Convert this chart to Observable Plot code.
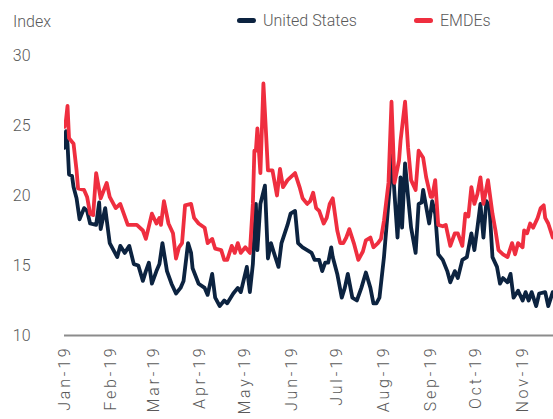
<!DOCTYPE html>
<html>
<head>
<meta charset="utf-8">
<script src="https://cdn.jsdelivr.net/npm/d3@7"></script>
<script src="https://cdn.jsdelivr.net/npm/@observablehq/plot@0.6"></script>
<style>
  body { margin: 0; background: #fff; }
  #wrap { position: relative; width: 553px; height: 419px; font-family: Roboto, "Noto Sans", sans-serif; font-weight: 300; color: #595959; }
  .leg { position: absolute; top: 11px; font-size: 16px; display: flex; align-items: center; }
  .sw { width: 19px; height: 5px; border-radius: 3px; margin-right: 7px; }
  #index { position: absolute; left: 13px; top: 12px; font-size: 16px; }
  svg text { font-weight: 300; }
  .xax text { letter-spacing: 2.8px; }
</style>
</head>
<body>
<div id="wrap">
  <div id="chart"></div>
  <div id="index">Index</div>
  <div class="leg" style="left:237px"><span class="sw" style="background:#0c2340"></span>United States</div>
  <div class="leg" style="left:414px"><span class="sw" style="background:#ef2e3f"></span>EMDEs</div>
</div>
<script>
const seriesNames = ["United States", "EMDEs"];
const seriesColors = ["#0c2340", "#ef2e3f"];
const yTicks = [10, 15, 20, 25, 30];

const usDates = ["2019-01-01","2019-01-02","2019-01-03","2019-01-04","2019-01-06","2019-01-07","2019-01-09","2019-01-11","2019-01-14","2019-01-16","2019-01-18","2019-01-22","2019-01-24","2019-01-25","2019-01-28","2019-01-31",
"2019-02-05","2019-02-07","2019-02-10","2019-02-13","2019-02-16","2019-02-19","2019-02-22","2019-02-24","2019-02-26","2019-02-28",
"2019-03-03","2019-03-05","2019-03-07","2019-03-10","2019-03-13","2019-03-16","2019-03-19","2019-03-21","2019-03-24","2019-03-26","2019-03-27","2019-03-31",
"2019-04-04","2019-04-06","2019-04-09","2019-04-11","2019-04-14","2019-04-17","2019-04-19","2019-04-23","2019-04-26","2019-04-28",
"2019-05-02","2019-05-04","2019-05-06","2019-05-08","2019-05-09","2019-05-11","2019-05-14","2019-05-16","2019-05-18","2019-05-20","2019-05-23","2019-05-25","2019-05-29","2019-05-31",
"2019-06-03","2019-06-05","2019-06-08","2019-06-11","2019-06-14","2019-06-16","2019-06-19","2019-06-21","2019-06-23","2019-06-25","2019-06-27","2019-06-28",
"2019-07-01","2019-07-04","2019-07-06","2019-07-08","2019-07-11","2019-07-14","2019-07-17","2019-07-20","2019-07-23","2019-07-25","2019-07-27","2019-07-29",
"2019-08-01","2019-08-03","2019-08-05","2019-08-06","2019-08-08","2019-08-10","2019-08-12","2019-08-13","2019-08-15","2019-08-17","2019-08-19","2019-08-22","2019-08-24","2019-08-26","2019-08-27","2019-08-31",
"2019-09-02","2019-09-04","2019-09-06","2019-09-09","2019-09-12","2019-09-14","2019-09-17","2019-09-19","2019-09-22","2019-09-25","2019-09-28","2019-09-30",
"2019-10-02","2019-10-04","2019-10-06","2019-10-08","2019-10-10","2019-10-12","2019-10-15","2019-10-17","2019-10-19","2019-10-22","2019-10-24","2019-10-26","2019-10-29",
"2019-11-01","2019-11-03","2019-11-05","2019-11-07","2019-11-10","2019-11-12","2019-11-16","2019-11-18","2019-11-21"];
const usValues = [23.4,24.6,23.7,21.5,21.4,20.6,19.8,18.3,19.1,18.9,18.0,17.9,19.5,17.6,19.1,16.6,
15.6,16.4,15.9,16.4,15.1,15.0,13.9,14.6,15.2,13.7,
14.6,15.1,16.6,14.6,13.7,13.0,13.4,13.9,16.6,15.9,14.8,13.7,
13.4,12.9,14.4,12.7,12.1,12.5,12.3,13.0,13.4,13.1,
14.9,13.1,15.1,19.4,16.1,19.4,20.7,15.5,16.6,15.9,14.9,16.6,17.9,18.7,
18.9,16.6,16.3,16.1,15.9,15.4,15.4,14.6,15.2,15.2,16.3,15.6,
14.4,12.7,13.4,14.4,12.7,12.5,13.4,14.5,13.4,12.3,12.3,12.7,
15.6,18.2,20.9,23.4,20.1,17.0,21.3,17.7,22.3,19.9,17.7,15.9,19.4,19.5,20.4,18.0,
19.6,18.7,15.8,15.4,14.6,13.8,14.6,14.1,15.4,15.6,17.3,16.1,
17.7,19.4,17.0,19.6,19.2,15.6,14.9,13.7,14.1,13.8,14.4,12.7,13.2,
12.5,13.1,12.5,13.1,12.1,13.0,13.1,12.1,13.1];

const emDates = ["2019-01-01","2019-01-02","2019-01-03","2019-01-04","2019-01-07","2019-01-09","2019-01-10","2019-01-14","2019-01-16","2019-01-18","2019-01-20","2019-01-22","2019-01-25","2019-01-29","2019-01-31",
"2019-02-04","2019-02-07","2019-02-12","2019-02-18","2019-02-22","2019-02-24","2019-02-28",
"2019-03-03","2019-03-05","2019-03-06","2019-03-08","2019-03-11","2019-03-14","2019-03-16","2019-03-18","2019-03-20","2019-03-22","2019-03-26","2019-03-28","2019-03-31",
"2019-04-04","2019-04-06","2019-04-09","2019-04-11","2019-04-15","2019-04-17","2019-04-19","2019-04-22","2019-04-24","2019-04-26","2019-04-28",
"2019-05-01","2019-05-04","2019-05-06","2019-05-07","2019-05-08","2019-05-09","2019-05-11","2019-05-13","2019-05-15","2019-05-16","2019-05-19","2019-05-22","2019-05-24","2019-05-26","2019-05-29",
"2019-06-03","2019-06-06","2019-06-08","2019-06-11","2019-06-13","2019-06-15","2019-06-17","2019-06-19","2019-06-22","2019-06-24","2019-06-26","2019-06-28",
"2019-07-01","2019-07-03","2019-07-05","2019-07-07","2019-07-09","2019-07-12","2019-07-15","2019-07-18","2019-07-20","2019-07-23","2019-07-25","2019-07-28","2019-07-30",
"2019-08-01","2019-08-04","2019-08-06","2019-08-08","2019-08-11","2019-08-12","2019-08-15","2019-08-17","2019-08-19","2019-08-22","2019-08-24","2019-08-27","2019-08-29",
"2019-09-01","2019-09-02","2019-09-04","2019-09-06","2019-09-09","2019-09-11","2019-09-14","2019-09-17","2019-09-19","2019-09-22","2019-09-24","2019-09-26","2019-09-28","2019-09-30",
"2019-10-02","2019-10-04","2019-10-06","2019-10-09","2019-10-12","2019-10-14","2019-10-16","2019-10-19","2019-10-22","2019-10-25","2019-10-27","2019-10-29",
"2019-11-01","2019-11-02","2019-11-04","2019-11-06","2019-11-08","2019-11-11","2019-11-13","2019-11-15","2019-11-16","2019-11-18","2019-11-21"];
const emValues = [24.9,25.4,26.4,24.1,23.7,21.8,20.5,20.4,19.9,18.7,18.6,21.6,19.8,20.9,19.9,
19.1,19.4,17.9,17.9,17.5,16.9,18.7,
18.0,18.4,17.9,19.6,18.0,17.3,15.5,16.3,16.6,19.3,19.4,18.4,18.0,
17.7,16.6,16.9,16.2,16.1,15.4,15.4,16.4,15.9,16.6,15.9,
16.3,15.9,19.4,23.2,23.2,24.8,21.6,28.0,23.9,21.8,21.8,20.0,21.9,20.6,21.1,
21.6,20.6,19.8,19.4,19.6,20.2,19.1,18.9,18.0,18.4,19.4,19.8,
17.5,16.6,16.6,17.0,17.6,16.6,15.4,16.0,16.8,17.0,16.3,16.6,16.9,
18.2,20.9,26.7,20.9,22.5,23.9,26.7,23.4,21.1,20.4,23.2,22.7,21.3,
19.9,19.9,21.1,17.9,17.8,17.9,16.4,17.3,17.3,16.4,18.7,18.5,20.6,19.4,
20.1,21.3,19.4,21.1,18.7,17.5,16.1,15.8,15.6,16.6,15.8,16.6,
16.3,17.5,17.3,18.0,17.7,18.4,19.1,19.3,18.4,18.0,17.0];

const parse = d3.utcParse("%Y-%m-%d");
const us = usDates.map((d, i) => ({date: parse(d), value: usValues[i], series: seriesNames[0]}));
const em = emDates.map((d, i) => ({date: parse(d), value: emValues[i], series: seriesNames[1]}));

const chart = Plot.plot({
  width: 553,
  height: 419,
  marginLeft: 64,
  marginRight: 0,
  marginTop: 55,
  marginBottom: 84,
  style: {fontFamily: "Roboto, 'Noto Sans', sans-serif", fontSize: "16px", color: "#595959", background: "#fff"},
  x: {type: "utc", domain: [parse("2019-01-01"), new Date(Date.UTC(2019, 10, 21, 12))]},
  y: {domain: [10, 30]},
  marks: [
    Plot.axisY({ticks: yTicks, tickSize: 0, tickPadding: 34, label: null, tickFormat: d => d, fill: "#595959"}),
    Plot.axisX({ticks: d3.utcMonth.every(1), tickFormat: d3.utcFormat("%b-%y"), tickRotate: -90, tickSize: 0, tickPadding: 10, label: null, fill: "#595959", className: "xax"}),
    Plot.ruleY([10], {stroke: "#8c8c8c", strokeWidth: 2}),
    Plot.lineY(us, {x: "date", y: "value", stroke: seriesColors[0], strokeWidth: 3.8, clip: true}),
    Plot.lineY(em, {x: "date", y: "value", stroke: seriesColors[1], strokeWidth: 3.8, clip: true})
  ]
});
document.getElementById("chart").appendChild(chart);
</script>
</body>
</html>
